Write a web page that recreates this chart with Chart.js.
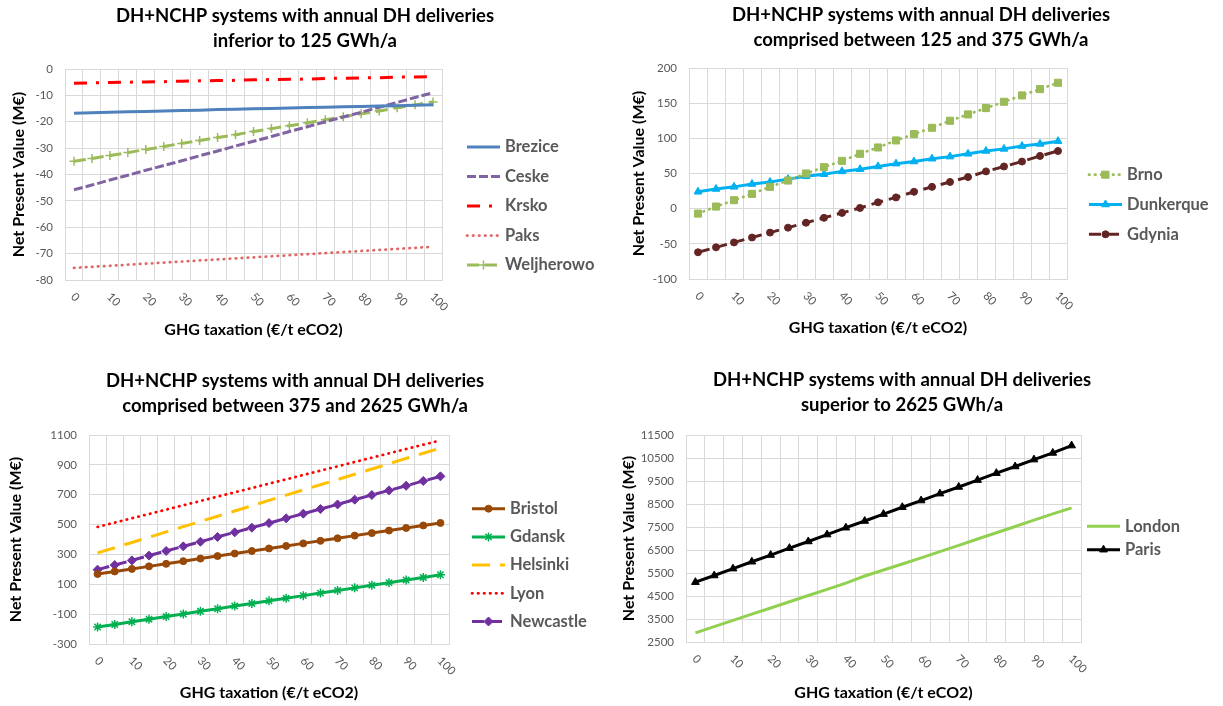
<!DOCTYPE html>
<html><head><meta charset="utf-8">
<script src="https://cdn.jsdelivr.net/npm/chart.js@4.4.1/dist/chart.umd.min.js"></script>
<style>
html,body{margin:0;padding:0;background:#fff;width:1223px;height:706px;overflow:hidden}
.c{position:absolute}
canvas{display:block}
</style></head>
<body>
<div class="c" style="left:0;top:0"><canvas id="c1" width="610" height="353"></canvas></div>
<div class="c" style="left:611px;top:0"><canvas id="c2" width="612" height="353"></canvas></div>
<div class="c" style="left:0;top:353px"><canvas id="c3" width="610" height="353"></canvas></div>
<div class="c" style="left:611px;top:353px"><canvas id="c4" width="612" height="353"></canvas></div>
<script>
// ---------- DATA ----------
const categories = [0,5,10,15,20,25,30,35,40,45,50,55,60,65,70,75,80,85,90,95,100];
const xTickLabels = ['0','10','20','30','40','50','60','70','80','90','100'];

// Chart 1 : inferior to 125 GWh/a
const yTicks1 = [0,-10,-20,-30,-40,-50,-60,-70,-80];
const brezice    = [-16.8,-16.6,-16.4,-16.2,-16.1,-15.9,-15.7,-15.6,-15.4,-15.3,-15.1,-15.0,-14.8,-14.6,-14.5,-14.3,-14.2,-14.0,-13.9,-13.7,-13.6];
const ceske      = [-45.8,-44.0,-42.1,-40.3,-38.4,-36.6,-34.8,-32.9,-31.1,-29.2,-27.4,-25.6,-23.7,-21.9,-20.0,-18.2,-16.4,-14.5,-12.7,-10.8,-9.0];
const krsko      = [-5.4,-5.3,-5.1,-5.0,-4.9,-4.8,-4.6,-4.5,-4.4,-4.3,-4.1,-4.0,-3.9,-3.8,-3.6,-3.5,-3.4,-3.3,-3.1,-3.0,-2.9];
const paks       = [-75.4,-75.0,-74.6,-74.2,-73.8,-73.4,-73.0,-72.6,-72.2,-71.8,-71.4,-71.0,-70.6,-70.2,-69.8,-69.4,-69.0,-68.6,-68.2,-67.8,-67.4];
const weljherowo = [-35.0,-33.9,-32.8,-31.7,-30.5,-29.4,-28.2,-27.1,-26.0,-24.9,-23.7,-22.6,-21.5,-20.4,-19.2,-18.1,-17.0,-15.9,-14.7,-13.6,-12.5];

// Chart 2 : between 125 and 375 GWh/a
const yTicks2 = [-100,-50,0,50,100,150,200];
const brno      = [-7,3,12,21,31,40,50,59,68,78,87,97,106,115,125,134,143,152,161,170,179];
const dunkerque = [24,28,31,35,38,42,46,49,53,56,60,64,67,71,74,78,82,85,89,92,96];
const gdynia    = [-62,-55,-48,-41,-34,-27,-20,-13,-6,1,9,16,24,31,38,45,53,60,67,75,82];

// Chart 3 : between 375 and 2625 GWh/a
const yTicks3 = [-300,-100,100,300,500,700,900,1100];
const bristol   = [169,186,203,220,237,255,272,289,306,323,340,357,374,391,408,426,443,460,477,494,511];
const gdansk    = [-186,-169,-151,-134,-116,-99,-81,-64,-46,-29,-11,6,24,41,59,76,94,111,129,146,164];
const helsinki  = [310,345,380,415,451,486,521,556,591,626,662,697,732,767,802,837,872,908,943,978,1013];
const lyon      = [484,513,542,571,600,629,658,687,716,745,774,803,832,861,890,919,948,977,1006,1035,1064];
const newcastle = [198,229,260,292,323,354,385,417,448,479,510,542,573,604,635,667,698,729,760,792,823];

// Chart 4 : superior to 2625 GWh/a
const yTicks4 = [2500,3500,4500,5500,6500,7500,8500,9500,10500,11500];
const london = [2900,3170,3440,3710,3980,4250,4520,4790,5060,5370,5630,5890,6160,6430,6700,6980,7250,7520,7800,8070,8330];
const paris  = [5100,5390,5690,5990,6280,6580,6870,7170,7470,7760,8060,8360,8650,8950,9240,9540,9840,10130,10430,10720,11040];

// ---------- STYLE ----------
const FONT = 'Lato, "Open Sans", "DejaVu Sans", sans-serif';
const GRAY = '#595959';
const GRID = '#D9D9D9';
const LEG_FS = 16.5;

function ds(label, data, color, opts) {
  return Object.assign({
    label, data,
    borderColor: color, backgroundColor: color,
    pointBackgroundColor: color, pointBorderColor: color,
    borderWidth: 3, tension: 0, fill: false,
    pointRadius: 0, pointHoverRadius: 0, pointBorderWidth: 1,
    borderDash: [], borderCapStyle: 'butt'
  }, opts || {});
}

// legend: position box and draw line samples with markers
const legendLines = {
  id: 'legendLines',
  afterLayout(chart, args, o) {
    const lg = chart.legend;
    const lo = chart.options.plugins.legend.labels;
    const pad = lo.padding, fs = lo.font.size, n = chart.data.datasets.length;
    const colH = n * (fs + pad);
    const T = o.y - fs / 2;
    lg.left = o.x - pad;
    lg.right = chart.width;
    lg.width = lg.right - lg.left;
    lg.bottom = chart.height;
    lg.top = 2 * T - pad - chart.height + colH;
    lg.height = lg.bottom - lg.top;
  },
  afterDraw(chart, args, o) {
    const lg = chart.legend, ctx = chart.ctx;
    const lo = chart.options.plugins.legend.labels;
    const fs = lo.font.size;
    (lg.legendHitBoxes || []).forEach((hb, i) => {
      const d = chart.data.datasets[i];
      const y = hb.top + fs / 2, x0 = hb.left, x1 = hb.left + o.len;
      ctx.save();
      ctx.strokeStyle = d.borderColor;
      ctx.lineWidth = d.borderWidth;
      ctx.lineCap = d.borderCapStyle || 'butt';
      ctx.setLineDash(d.borderDash || []);
      ctx.beginPath(); ctx.moveTo(x0, y); ctx.lineTo(x1, y); ctx.stroke();
      ctx.setLineDash([]);
      if (d.pointRadius > 0 && Chart.helpers && Chart.helpers.drawPoint) {
        ctx.fillStyle = d.pointBackgroundColor;
        ctx.strokeStyle = d.pointBorderColor;
        ctx.lineWidth = d.pointBorderWidth;
        Chart.helpers.drawPoint(ctx, {pointStyle: d.pointStyle, radius: d.pointRadius, borderWidth: d.pointBorderWidth, rotation: 0}, (x0 + x1) / 2, y);
      }
      ctx.restore();
    });
  }
};

// x tick labels rotated 45deg clockwise, placed from the category scale
const rotXLabels = {
  id: 'rotXLabels',
  afterDraw(chart) {
    const sc = chart.scales.x, ctx = chart.ctx;
    ctx.save();
    ctx.font = '11.5px ' + FONT;
    ctx.fillStyle = GRAY;
    ctx.textAlign = 'left';
    ctx.textBaseline = 'middle';
    categories.forEach((c, i) => {
      const lbl = String(c);
      if (!xTickLabels.includes(lbl)) return;
      const x = sc.getPixelForTick(i);
      ctx.save();
      ctx.translate(x - 1, sc.top + 15);
      ctx.rotate(Math.PI / 4);
      ctx.fillText(lbl, 0, 0);
      ctx.restore();
    });
    ctx.restore();
  }
};

function hiddenBoxLabels(chart) {
  return Chart.defaults.plugins.legend.labels.generateLabels(chart).map(it =>
    Object.assign(it, {fillStyle: 'rgba(0,0,0,0)', strokeStyle: 'rgba(0,0,0,0)', lineWidth: 0}));
}

function build(id, c) {
  return new Chart(document.getElementById(id), {
    type: 'line',
    data: {labels: categories, datasets: c.datasets},
    plugins: [legendLines, rotXLabels],
    options: {
      responsive: false, animation: false, devicePixelRatio: 1, events: [],
      layout: {padding: {left: c.padL, right: c.padR, top: 0, bottom: 0}},
      plugins: {
        tooltip: {enabled: false},
        title: {
          display: true, text: c.title, color: '#000',
          font: {family: FONT, size: 18.5, weight: 'bold', lineHeight: 25 / 18.5},
          padding: {top: c.tPT, bottom: c.tPB}
        },
        legend: {
          display: true, position: 'right', align: 'center', maxWidth: 100,
          labels: {
            boxWidth: 38 - LEG_FS / 2, boxHeight: LEG_FS, padding: c.legPad, color: GRAY,
            font: {family: FONT, size: LEG_FS, weight: 'bold'},
            generateLabels: hiddenBoxLabels
          }
        },
        legendLines: {x: c.legX, y: c.legY, len: 33}
      },
      scales: {
        x: {
          type: 'category', offset: true,
          grid: {color: GRID, drawTicks: false, offset: true, lineWidth: 1},
          border: {color: GRID},
          ticks: {display: false, autoSkip: false},
          afterFit: sc => { sc.height = c.xH; },
          title: {
            display: true, text: 'GHG taxation (€/t eCO2)', color: '#000',
            font: {family: FONT, size: 16, weight: 'bold', lineHeight: 1.2},
            padding: {top: 0, bottom: c.xTPB}
          }
        },
        y: {
          position: 'left', min: c.yMin, max: c.yMax,
          afterBuildTicks: sc => { sc.ticks = c.yTicks.map(v => ({value: v})); },
          afterFit: sc => { sc.width = c.yW; },
          grid: {color: GRID, drawTicks: false, lineWidth: 1},
          border: {color: GRID},
          ticks: {color: GRAY, padding: 12, font: {family: FONT, size: 11.5}, callback: v => String(v)},
          title: {
            display: true, text: 'Net Present Value (M€)', color: '#000',
            font: {family: FONT, size: 16, weight: 'bold', lineHeight: 1.2},
            padding: {top: c.yTPT, bottom: 0}
          }
        },
        yR: {
          position: 'right', display: true,
          grid: {display: false}, border: {display: false}, ticks: {display: false},
          afterFit: sc => {
            const ch = sc.chart;
            sc.width = Math.max(0, ch.width - c.padR - ch.legend.width - c.plotRight);
          }
        }
      }
    }
  });
}

build('c1', {
  title: ['DH+NCHP systems with annual DH deliveries', 'inferior to 125 GWh/a'],
  padL: 0, padR: 0, yW: 65, xH: 73, plotRight: 442,
  tPT: 3.5, tPB: 15.5, yTPT: 9, xTPB: 13.5,
  legX: 467, legY: 147, legPad: 29.5 - LEG_FS,
  yMin: -80, yMax: 0, yTicks: yTicks1,
  datasets: [
    ds('Brezice', brezice, '#4F81BD'),
    ds('Ceske', ceske, '#8064A2', {borderDash: [9, 3]}),
    ds('Krsko', krsko, '#FF0000', {borderDash: [13, 9, 3, 9]}),
    ds('Paks', paks, '#E06666', {borderWidth: 2.75, borderDash: [0.5, 5.5], borderCapStyle: 'round'}),
    ds('Weljherowo', weljherowo, '#9BBB59', {borderDash: [12, 6], pointStyle: 'cross', pointRadius: 4.5, pointBorderWidth: 1.5})
  ]
});

build('c2', {
  title: ['DH+NCHP systems with annual DH deliveries', 'comprised between 125 and 375 GWh/a'],
  padL: 8, padR: 0, yW: 70, xH: 74, plotRight: 456,
  tPT: 2.5, tPB: 15.5, yTPT: 10, xTPB: 15.5,
  legX: 478, legY: 174.7, legPad: 29.8 - LEG_FS,
  yMin: -100, yMax: 200, yTicks: yTicks2,
  datasets: [
    ds('Brno', brno, '#9BBB59', {borderWidth: 2.75, borderDash: [0.5, 5.5], borderCapStyle: 'round', pointStyle: 'rect', pointRadius: 5}),
    ds('Dunkerque', dunkerque, '#00B0F0', {pointStyle: 'triangle', pointRadius: 4.5}),
    ds('Gdynia', gdynia, '#632523', {borderDash: [12, 6], pointStyle: 'circle', pointRadius: 3.5})
  ]
});

build('c3', {
  title: ['DH+NCHP systems with annual DH deliveries', 'comprised between 375 and 2625 GWh/a'],
  padL: 0, padR: 20, yW: 89, xH: 62, plotRight: 449,
  tPT: 15.5, tPB: 16.5, yTPT: 6, xTPB: 3.5,
  legX: 472, legY: 155.7, legPad: 28.2 - LEG_FS,
  yMin: -300, yMax: 1100, yTicks: yTicks3,
  datasets: [
    ds('Bristol', bristol, '#984807', {pointStyle: 'circle', pointRadius: 3.5}),
    ds('Gdansk', gdansk, '#00B050', {pointStyle: 'star', pointRadius: 4.5, pointBorderWidth: 1.5}),
    ds('Helsinki', helsinki, '#FFC000', {borderDash: [18, 10]}),
    ds('Lyon', lyon, '#FF0000', {borderWidth: 2.75, borderDash: [0.5, 5.5], borderCapStyle: 'round'}),
    ds('Newcastle', newcastle, '#7030A0', {borderDash: [12, 6], pointStyle: 'rectRot', pointRadius: 4.5})
  ]
});

build('c4', {
  title: ['DH+NCHP systems with annual DH deliveries', 'superior to 2625 GWh/a'],
  padL: 0, padR: 30, yW: 75, xH: 64, plotRight: 470,
  tPT: 14.5, tPB: 17.5, yTPT: 8, xTPB: 3.5,
  legX: 476, legY: 173.3, legPad: 23.4 - LEG_FS,
  yMin: 2500, yMax: 11500, yTicks: yTicks4,
  datasets: [
    ds('London', london, '#92D050'),
    ds('Paris', paris, '#000000', {pointStyle: 'triangle', pointRadius: 4.5})
  ]
});
</script>
</body></html>
